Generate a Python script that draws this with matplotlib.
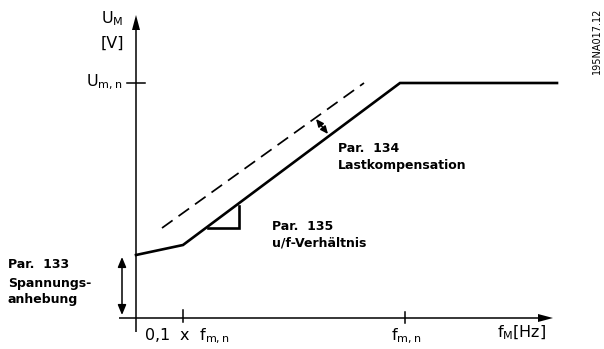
import matplotlib
matplotlib.use("Agg")
import matplotlib.pyplot as plt

# Schematic data (x: frequency units, y: voltage units; origin at axis crossing)
solid_f = [0, 47, 264, 421]
solid_u = [63, 73, 235, 235]
dashed_f = [26, 228]
dashed_u = [90, 235]
tri_f = [72, 103, 103]
tri_u = [90, 90, 112]
f_tick_low = 47
f_tick_nom = 269
u_tick_nom = 235
boost_arrow = (-14, 61, 3)          # x, y_top, y_bottom
comp_arrow = ((180, 199), (192, 184))

fig = plt.figure(figsize=(6.04, 3.49), dpi=100)
ax = fig.add_axes([0, 0, 1, 1])
ax.set_xlim(-136, 604 - 136)
ax.set_ylim(-(349 - 318), 318)
ax.axis("off")

k = "black"
# axes
ax.plot([-17, 405], [0, 0], color=k, lw=1.1, solid_capstyle="butt")
ax.plot([0, 0], [-14, 290], color=k, lw=1.1, solid_capstyle="butt")
ax.fill([402, 417, 402], [-4, 0, 4], color=k, lw=0)
ax.fill([-4, 0, 4], [288, 303, 288], color=k, lw=0)
# ticks
ax.plot([f_tick_low, f_tick_low], [-4, 8], color=k, lw=1.1)
ax.plot([f_tick_nom, f_tick_nom], [-5, 6], color=k, lw=1.1)
ax.plot([-9, 9], [u_tick_nom, u_tick_nom], color=k, lw=1.1)

# curves
ax.plot(solid_f, solid_u, color=k, lw=1.9, solid_joinstyle="miter")
ax.plot(dashed_f, dashed_u, color=k, lw=1.25, dashes=(7.5, 4.2))
ax.plot(tri_f, tri_u, color=k, lw=1.9, solid_joinstyle="miter")

# double arrows
ax.annotate("", xy=(boost_arrow[0], boost_arrow[2]), xytext=(boost_arrow[0], boost_arrow[1]),
            arrowprops=dict(arrowstyle="<|-|>,head_length=0.6,head_width=0.25", color=k, lw=1.1,
                            shrinkA=0, shrinkB=0))
ax.annotate("", xy=comp_arrow[1], xytext=comp_arrow[0],
            arrowprops=dict(arrowstyle="<|-|>,head_length=0.45,head_width=0.2", color=k, lw=1.1,
                            shrinkA=0, shrinkB=0))

def T(px, py, s, **kw):
    kw.setdefault("fontsize", 9)
    kw.setdefault("fontweight", "bold")
    ax.text(px - 136, 318 - py, s, color=k, **kw)

T(123, 19, r"$\mathregular{U_M}$", ha="right", va="center", fontsize=11.5, fontweight="normal")
T(124, 43, "[V]", ha="right", va="center", fontsize=11.5, fontweight="normal")
T(123, 82, r"$\mathregular{U_{m,n}}$", ha="right", va="center", fontsize=11.5, fontweight="normal")
T(338, 148, "Par.  134", va="center")
T(338, 165, "Lastkompensation", va="center")
T(272, 226, "Par.  135", va="center")
T(272, 243, "u/f-Verhältnis", va="center")
T(8, 265, "Par.  133", va="center")
T(8, 283, "Spannungs-", va="center")
T(8, 300, "anhebung", va="center")
T(144, 336, r"0,1  x  $\mathregular{f_{m,n}}$", va="center", fontsize=11.5, fontweight="normal")
T(406, 336, r"$\mathregular{f_{m,n}}$", ha="center", va="center", fontsize=11.5, fontweight="normal")
T(497, 333, r"$\mathregular{f_M}$[Hz]", va="center", fontsize=11.5, fontweight="normal")
T(597, 41, "195NA017.12", rotation=90, ha="center", va="center", fontsize=7, fontweight="normal")

fig.savefig("out.png", dpi=100)
